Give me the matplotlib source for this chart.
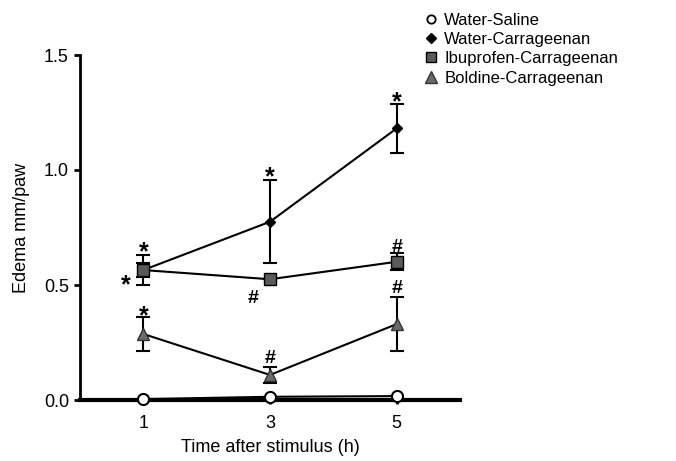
import matplotlib
matplotlib.use('Agg')
import matplotlib.pyplot as plt
from matplotlib.lines import Line2D

plt.rcParams['font.family'] = ['Liberation Sans', 'DejaVu Sans']

# data
hours = [1, 3, 5]
saline = [0.004, 0.014, 0.017]
water_car = [0.565, 0.775, 1.181]
water_car_err = [0.065, 0.18, 0.106]
ibu_car = [0.565, 0.525, 0.601]
ibu_car_err = [0.032, 0.0, 0.036]
bold_car = [0.287, 0.109, 0.330]
bold_car_err = [0.075, 0.035, 0.117]

# significance marks: (x, y, symbol)
marks_x = [1, 0.73, 1, 3, 2.74, 3, 5, 5, 5]
marks_y = [0.64, 0.5, 0.365, 0.97, 0.44, 0.18, 1.295, 0.665, 0.485]
marks_txt = ['*', '*', '*', '*', '#', '#', '*', '#', '#']

fig = plt.figure(figsize=(6.76, 4.61), dpi=100)
ax = fig.add_axes([80 / 676, 61 / 461, 380 / 676, 345 / 461])

# plot each group with error bars
ax.errorbar(hours, water_car, yerr=water_car_err, color='black', lw=1.5,
            marker='D', ms=5, mfc='black', mec='black', capsize=5,
            capthick=1.5, elinewidth=1.5, zorder=3)
ax.errorbar(hours, ibu_car, yerr=ibu_car_err, color='black', lw=1.5,
            marker='s', ms=8, mfc='#5a5a5a', mec='black', capsize=5,
            capthick=1.5, elinewidth=1.5, zorder=4)
ax.errorbar(hours, bold_car, yerr=bold_car_err, color='black', lw=1.5,
            marker='^', ms=9, mfc='#6a6a6a', mec='#333333', capsize=5,
            capthick=1.5, elinewidth=1.5, zorder=3)
ax.plot(hours, saline, color='black', lw=1.5, marker='o', ms=8,
        mfc='white', mec='black', mew=1.5, zorder=5, clip_on=False)

for x, y, t in zip(marks_x, marks_y, marks_txt):
    if t == '*':
        ax.text(x, y, t, ha='center', va='center', fontsize=18,
                fontweight='bold', color='black')
    else:
        ax.text(x, y, t, ha='center', va='center', fontsize=14,
                fontweight='bold', color='black')

ax.set_xlim(0, 6)
ax.set_ylim(0, 1.5)
ax.set_xticks(hours)
ax.set_yticks([0.0, 0.5, 1.0, 1.5])
ax.set_yticklabels(['0.0', '0.5', '1.0', '1.5'])
ax.spines['top'].set_visible(False)
ax.spines['right'].set_visible(False)
ax.spines['left'].set_linewidth(2)
ax.spines['bottom'].set_linewidth(3)
ax.tick_params(axis='y', length=4, width=2, labelsize=13, pad=4)
ax.tick_params(axis='x', length=3, width=2, labelsize=13, pad=8)
ax.set_xlabel('Time after stimulus (h)', fontsize=13, labelpad=5)
ax.set_ylabel('Edema mm/paw', fontsize=13, labelpad=10)

# legend: marker-only entries like the reference
handles = [
    Line2D([], [], ls='none', marker='o', ms=6, mfc='white', mec='black', mew=1.3),
    Line2D([], [], ls='none', marker='D', ms=5, mfc='black', mec='black'),
    Line2D([], [], ls='none', marker='s', ms=7, mfc='#5a5a5a', mec='black'),
    Line2D([], [], ls='none', marker='^', ms=8, mfc='#6a6a6a', mec='#333333'),
]
labels = ['Water-Saline', 'Water-Carrageenan', 'Ibuprofen-Carrageenan',
          'Boldine-Carrageenan']
fig.legend(handles, labels, loc='upper left', bbox_to_anchor=(426 / 676, 1 - 13 / 461),
           frameon=False, fontsize=12, handlelength=0.6, handletextpad=0.5,
           labelspacing=0.25, borderaxespad=0, borderpad=0)

fig.savefig('out.png', dpi=100)
